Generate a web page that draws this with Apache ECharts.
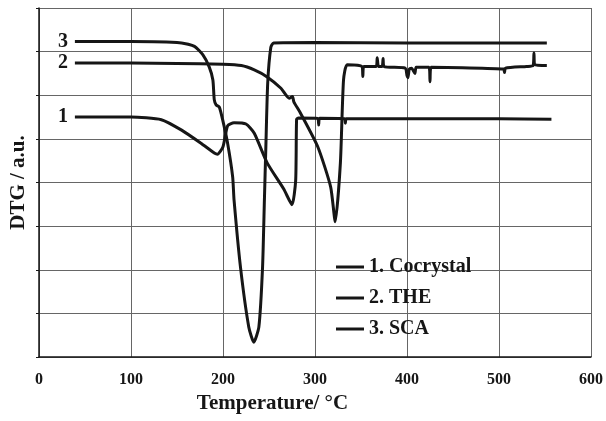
<!DOCTYPE html>
<html>
<head>
<meta charset="utf-8">
<script src="https://cdn.jsdelivr.net/npm/echarts@6/dist/echarts.min.js"></script>
<style>
  html, body { margin: 0; padding: 0; background: #fff; }
  #chart { width: 606px; height: 421px; }
</style>
</head>
<body>
<div id="chart"></div>
<script>
// temperatures (°C) and DTG values (a.u., grid units)
var cocrystalT = [39, 100, 133, 155, 176, 191, 194, 200, 205, 212, 225, 234, 248, 266, 275, 279, 280, 282, 303, 304, 305, 332, 333, 334, 400, 500, 557]
var cocrystalV = [5.5, 5.5, 5.44, 5.2, 4.9, 4.67, 4.65, 4.82, 5.3, 5.37, 5.34, 5.13, 4.45, 3.85, 3.49, 4.05, 5.45, 5.48, 5.47, 5.32, 5.47, 5.46, 5.36, 5.46, 5.46, 5.46, 5.45]

var theT = [39, 100, 150, 200, 220, 234, 248, 263, 272, 275.5, 277, 284, 303, 317, 322, 327.6, 331, 335, 351, 352, 353, 366.5, 367.6, 369, 373, 374, 375, 398, 400, 401, 402.5, 405, 408.6, 410, 424, 425, 426, 460, 505, 506, 507, 530, 537, 538, 539, 552]
var theV = [6.74, 6.74, 6.73, 6.71, 6.68, 6.58, 6.42, 6.16, 5.93, 5.97, 5.85, 5.6, 4.82, 3.9, 3.1, 4.45, 6.35, 6.7, 6.66, 6.43, 6.66, 6.66, 6.86, 6.66, 6.66, 6.84, 6.66, 6.62, 6.45, 6.4, 6.6, 6.62, 6.5, 6.64, 6.64, 6.31, 6.64, 6.63, 6.6, 6.52, 6.62, 6.66, 6.68, 6.97, 6.7, 6.68]

var scaT = [39, 100, 155, 169, 178, 185, 189, 190.5, 192.5, 196, 199.6, 205, 210.5, 212, 219, 228, 233.5, 239, 243, 245, 246.5, 248.6, 252, 255, 300, 400, 500, 552]
var scaV = [7.23, 7.23, 7.2, 7.12, 6.93, 6.65, 6.35, 5.9, 5.78, 5.73, 5.44, 4.9, 4.13, 3.6, 2.06, 0.69, 0.34, 0.69, 2.06, 3.6, 4.75, 6.28, 7.1, 7.2, 7.21, 7.2, 7.2, 7.2]

var xTicks = [0, 100, 200, 300, 400, 500, 600]

var ink = '#161616'
var serif = 'Liberation Serif'

function line (name, t, v, tag) {
  return {
    name: name,
    type: 'line',
    data: t.map(function (x, i) { return [x, v[i]] }),
    showSymbol: false,
    symbol: 'none',
    smooth: 0.2,
    color: ink,
    lineStyle: { color: ink, width: 3 },
    emphasis: { disabled: true },
    // curve number written just left of where each trace starts
    markPoint: {
      symbol: 'circle',
      symbolSize: 0,
      silent: true,
      label: { show: true, position: 'left', distance: 7, formatter: tag,
        color: ink, fontFamily: serif, fontWeight: 'bold', fontSize: 20 },
      data: [{ coord: [t[0], v[0]] }]
    },
    animation: false
  }
}

var chart = echarts.init(document.getElementById('chart'))
chart.setOption({
  backgroundColor: '#fff',
  animation: false,
  grid: { left: 37, right: 14, top: 8, bottom: 64 },
  legend: {
    orient: 'vertical',
    left: 331,
    top: 252,
    icon: 'rect',
    itemWidth: 28,
    itemHeight: 3,
    itemGap: 11,
    textStyle: { color: ink, fontFamily: serif, fontWeight: 'bold', fontSize: 20 },
    data: ['1. Cocrystal', '2. THE', '3. SCA']
  },
  xAxis: {
    type: 'value',
    min: xTicks[0],
    max: xTicks[xTicks.length - 1],
    interval: 100,
    name: 'Temperature/ °C',
    nameLocation: 'middle',
    nameGap: 32,
    nameTextStyle: { color: ink, fontFamily: serif, fontWeight: 'bold', fontSize: 21, padding: [0, 85, 0, 0] },
    axisLine: { lineStyle: { color: ink, width: 1.5 } },
    axisTick: { show: false },
    axisLabel: { color: ink, fontFamily: serif, fontWeight: 'bold', fontSize: 16, margin: 15 },
    splitLine: { show: true, lineStyle: { color: '#666', width: 1 } }
  },
  yAxis: {
    type: 'value',
    min: 0,
    max: 8,
    interval: 1,
    name: 'DTG / a.u.',
    nameLocation: 'middle',
    nameGap: 10,
    nameTextStyle: { color: ink, fontFamily: serif, fontWeight: 'bold', fontSize: 21 },
    axisLine: { show: true, lineStyle: { color: ink, width: 1.5 } },
    axisTick: { show: true, length: 3, lineStyle: { color: ink } },
    axisLabel: { show: false },
    splitLine: { show: true, lineStyle: { color: '#666', width: 1 } }
  },
  series: [
    line('1. Cocrystal', cocrystalT, cocrystalV, '1'),
    line('2. THE', theT, theV, '2'),
    line('3. SCA', scaT, scaV, '3')
  ]
})
</script>
</body>
</html>
